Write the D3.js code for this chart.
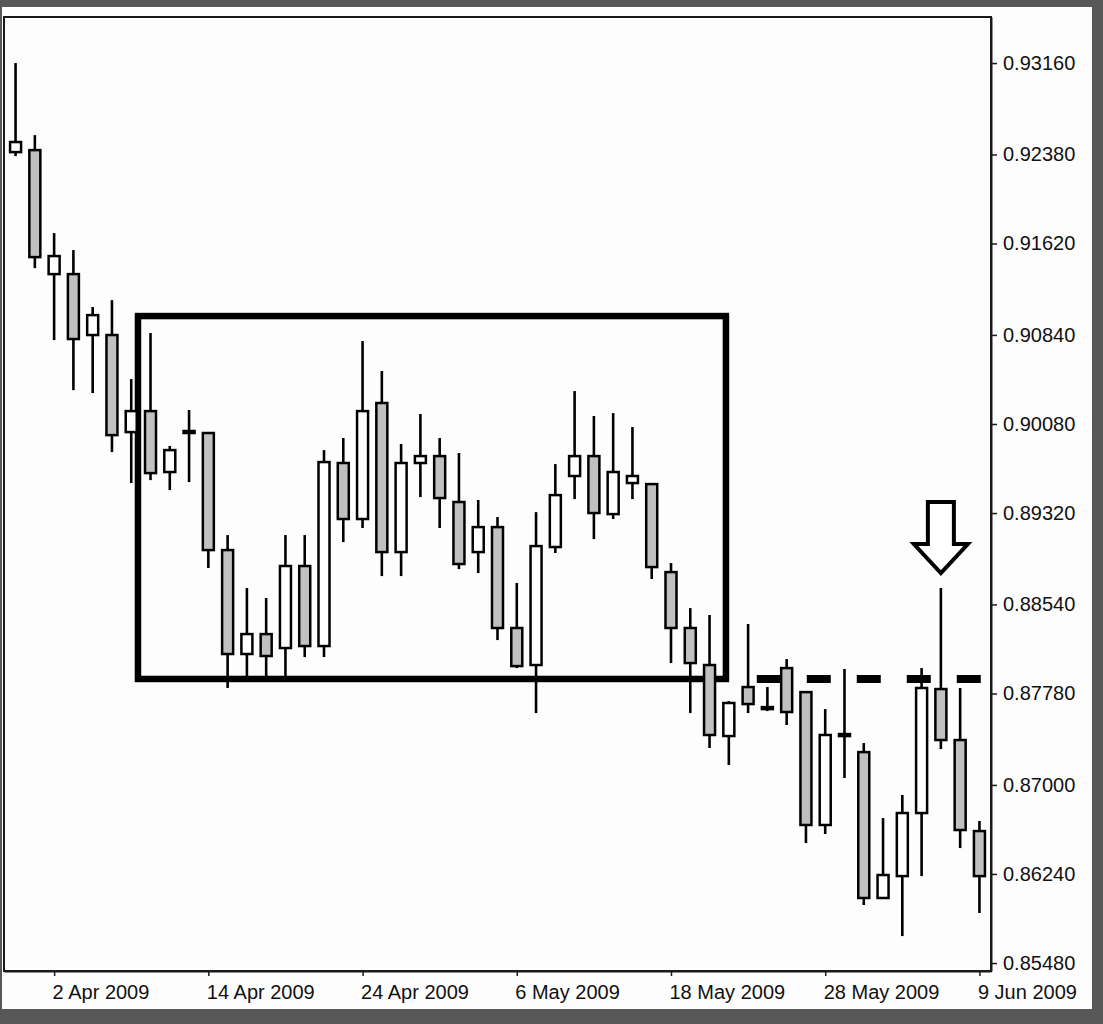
<!DOCTYPE html>
<html>
<head>
<meta charset="utf-8">
<script src="https://cdn.jsdelivr.net/npm/d3@7"></script>
<style>
  html, body { margin: 0; padding: 0; background: #575757; }
  #chart { position: absolute; left: 0; top: 0; }
</style>
</head>
<body>
<div id="chart"></div>
<script>
// trading days shown on the chart
const dates = [
  '2009-03-31', '2009-04-01', '2009-04-02', '2009-04-03',
  '2009-04-06', '2009-04-07', '2009-04-08', '2009-04-09', '2009-04-10',
  '2009-04-13', '2009-04-14', '2009-04-15', '2009-04-16', '2009-04-17',
  '2009-04-20', '2009-04-21', '2009-04-22', '2009-04-23', '2009-04-24',
  '2009-04-27', '2009-04-28', '2009-04-29', '2009-04-30', '2009-05-01',
  '2009-05-04', '2009-05-05', '2009-05-06', '2009-05-07', '2009-05-08',
  '2009-05-11', '2009-05-12', '2009-05-13', '2009-05-14', '2009-05-15',
  '2009-05-18', '2009-05-19', '2009-05-20', '2009-05-21', '2009-05-22',
  '2009-05-25', '2009-05-26', '2009-05-27', '2009-05-28', '2009-05-29',
  '2009-06-01', '2009-06-02', '2009-06-03', '2009-06-04', '2009-06-05',
  '2009-06-08', '2009-06-09'
];

const opens = [
  0.92400, 0.92417, 0.91359, 0.91359, 0.90839, 0.90839, 0.90011, 0.90190, 0.89670, 0.90003,
  0.90003, 0.89004, 0.88117, 0.88287, 0.88168, 0.88868, 0.88185, 0.89747, 0.89269, 0.90259,
  0.88987, 0.89747, 0.89806, 0.89414, 0.88987, 0.89200, 0.88339, 0.88023, 0.89030, 0.89636,
  0.89806, 0.89311, 0.89576, 0.89567, 0.88816, 0.88339, 0.88023, 0.87417, 0.87835, 0.87656,
  0.87997, 0.87792, 0.86658, 0.87417, 0.87280, 0.86035, 0.86222, 0.86760, 0.87818, 0.87383,
  0.86606
];

const highs = [
  0.93160, 0.92545, 0.91709, 0.91564, 0.91078, 0.91137, 0.90463, 0.90856, 0.89892, 0.90199,
  0.90011, 0.89132, 0.88680, 0.88595, 0.89132, 0.89132, 0.89857, 0.89960, 0.90788, 0.90532,
  0.89909, 0.90165, 0.89960, 0.89832, 0.89431, 0.89286, 0.88723, 0.89328, 0.89738, 0.90361,
  0.90148, 0.90173, 0.90054, 0.89567, 0.88893, 0.88509, 0.88450, 0.87715, 0.88373, 0.87835,
  0.88074, 0.87792, 0.87647, 0.87989, 0.87357, 0.86717, 0.86914, 0.87997, 0.88680, 0.87827,
  0.86692
];

const lows = [
  0.92366, 0.91410, 0.90796, 0.90369, 0.90344, 0.89840, 0.89576, 0.89601, 0.89516, 0.89584,
  0.88851, 0.87827, 0.87920, 0.87920, 0.87920, 0.88091, 0.88091, 0.89072, 0.89192, 0.88782,
  0.88782, 0.89456, 0.89192, 0.88842, 0.88808, 0.88236, 0.87997, 0.87613, 0.88979, 0.89439,
  0.89098, 0.89269, 0.89439, 0.88757, 0.88040, 0.87613, 0.87315, 0.87170, 0.87613, 0.87630,
  0.87511, 0.86504, 0.86581, 0.87059, 0.85975, 0.86035, 0.85710, 0.86222, 0.87306, 0.86461,
  0.85907
];

const closes = [
  0.92486, 0.91504, 0.91513, 0.90805, 0.91009, 0.89985, 0.90190, 0.89661, 0.89857, 0.90020,
  0.89004, 0.88117, 0.88287, 0.88100, 0.88868, 0.88185, 0.89755, 0.89269, 0.90190, 0.88987,
  0.89747, 0.89806, 0.89448, 0.88885, 0.89200, 0.88339, 0.88014, 0.89038, 0.89473, 0.89806,
  0.89320, 0.89670, 0.89636, 0.88859, 0.88339, 0.88040, 0.87426, 0.87699, 0.87690, 0.87664,
  0.87622, 0.86658, 0.87426, 0.87434, 0.86035, 0.86231, 0.86760, 0.87827, 0.87383, 0.86615,
  0.86222
];

const xTickDates = ['2009-04-02', '2009-04-14', '2009-04-24', '2009-05-06', '2009-05-18', '2009-05-28', '2009-06-09'];
const xTickLabels = ['2 Apr 2009', '14 Apr 2009', '24 Apr 2009', '6 May 2009', '18 May 2009', '28 May 2009', '9 Jun 2009'];
const yTickLabels = ['0.85480', '0.86240', '0.87000', '0.87780', '0.88540', '0.89320', '0.90080', '0.90840', '0.91620', '0.92380', '0.93160'];

// annotations: consolidation box (candle index span, price span), resistance level, arrow over candle
const boxIndexSpan = [6.35, 36.85];
const boxPriceSpan = [0.87904, 0.91001];
const levelIndexSpan = [38.45, 50.1];
const levelPrice = 0.87904;
const arrowIndex = 48;
const arrowPriceSpan = [0.88808, 0.89414];

class CandleChart {

  constructor(_config) {
    this.config = {
      parentElement: _config.parentElement,
      containerWidth: _config.containerWidth || 1103,
      containerHeight: _config.containerHeight || 1024,
      plot: { left: 4, top: 17, right: 991, bottom: 971 }
    }

    this.data = dates.map((d, i) => ({
      date: d, open: opens[i], high: highs[i], low: lows[i], close: closes[i]
    }));

    this.initVis();
  }

  initVis() {
    let vis = this;
    const p = vis.config.plot;

    vis.svg = d3.select(vis.config.parentElement).append('svg')
      .attr('width', vis.config.containerWidth)
      .attr('height', vis.config.containerHeight);

    // grey photo frame + white paper
    vis.svg.append('rect')
      .attr('width', vis.config.containerWidth)
      .attr('height', vis.config.containerHeight)
      .attr('fill', '#575757');
    vis.svg.append('rect')
      .attr('x', 2).attr('y', 7)
      .attr('width', 1090).attr('height', 1002)
      .attr('fill', '#fdfdfd');

    vis.xScale = d3.scalePoint()
      .domain(dates)
      .range([p.left, p.right])
      .padding(0.6);

    vis.yScale = d3.scaleLinear()
      .domain([0.85412, 0.93553])
      .range([p.bottom, p.top]);

    vis.step = vis.xScale.step();
    // fractional candle index -> pixel
    vis.xAt = idx => {
      const i = Math.floor(idx);
      return vis.xScale(dates[i]) + (idx - i) * vis.step;
    };

    // plot frame
    vis.svg.append('rect')
      .attr('x', p.left).attr('y', p.top)
      .attr('width', p.right - p.left).attr('height', p.bottom - p.top)
      .attr('fill', 'none')
      .attr('stroke', '#1a1a1a')
      .attr('stroke-width', 2);

    vis.yAxis = d3.axisRight(vis.yScale)
      .tickValues(yTickLabels.map(Number))
      .tickFormat((d, i) => yTickLabels[i])
      .tickSize(6)
      .tickSizeOuter(0)
      .tickPadding(6);

    vis.xAxis = d3.axisBottom(vis.xScale)
      .tickValues(xTickDates)
      .tickFormat((d, i) => xTickLabels[i])
      .tickSize(5)
      .tickSizeOuter(0)
      .tickPadding(9);

    vis.yAxisGroup = vis.svg.append('g')
      .attr('class', 'axis y-axis')
      .attr('transform', `translate(${p.right}, 0)`)
      .call(vis.yAxis);

    vis.xAxisGroup = vis.svg.append('g')
      .attr('class', 'axis x-axis')
      .attr('transform', `translate(0, ${p.bottom})`)
      .call(vis.xAxis);

    vis.svg.selectAll('.axis .domain').attr('stroke', '#1a1a1a').attr('stroke-width', 2);
    vis.svg.selectAll('.axis .tick line').attr('stroke', '#1a1a1a').attr('stroke-width', 1.5);
    vis.svg.selectAll('.axis text')
      .attr('fill', '#111')
      .style('font-family', '"Liberation Sans", Arial, sans-serif')
      .style('font-size', '20px');
    vis.xAxisGroup.selectAll('text')
      .attr('text-anchor', 'start')
      .attr('x', -2);

    this.updateVis();
  }

  updateVis() {
    this.renderVis();
  }

  renderVis() {
    let vis = this;
    const x = vis.xScale, y = vis.yScale;

    // consolidation box
    vis.svg.append('rect')
      .attr('x', vis.xAt(boxIndexSpan[0]))
      .attr('y', y(boxPriceSpan[1]))
      .attr('width', vis.xAt(boxIndexSpan[1]) - vis.xAt(boxIndexSpan[0]))
      .attr('height', y(boxPriceSpan[0]) - y(boxPriceSpan[1]))
      .attr('fill', 'none')
      .attr('stroke', '#000')
      .attr('stroke-width', 6.5);

    // candles
    const candles = vis.svg.append('g').attr('class', 'candles')
      .selectAll('g')
      .data(vis.data)
      .join('g');

    candles.append('line')
      .attr('x1', d => x(d.date)).attr('x2', d => x(d.date))
      .attr('y1', d => y(d.high)).attr('y2', d => y(d.low))
      .attr('stroke', '#000')
      .attr('stroke-width', 2.6);

    const bw = 11;
    candles.append('rect')
      .attr('x', d => x(d.date) - bw / 2)
      .attr('y', d => y(Math.max(d.open, d.close)))
      .attr('width', bw)
      .attr('height', d => Math.max(2, Math.abs(y(d.open) - y(d.close))))
      .attr('fill', d => d.close >= d.open ? '#ffffff' : '#c0c0c0')
      .attr('stroke', '#000')
      .attr('stroke-width', 2.5);

    // resistance level, dashed
    vis.svg.append('line')
      .attr('x1', vis.xAt(levelIndexSpan[0]))
      .attr('x2', vis.xAt(levelIndexSpan[1]))
      .attr('y1', y(levelPrice)).attr('y2', y(levelPrice))
      .attr('stroke', '#000')
      .attr('stroke-width', 8)
      .attr('stroke-dasharray', '24,26');

    // hollow down arrow above the shooting star
    const ax = x(dates[arrowIndex]);
    const tip = y(arrowPriceSpan[0]);
    const top = y(arrowPriceSpan[1]);
    const headH = 29, shaftW = 13, headW = 27;
    const arrow = d3.path();
    arrow.moveTo(ax - shaftW, top);
    arrow.lineTo(ax + shaftW, top);
    arrow.lineTo(ax + shaftW, tip - headH);
    arrow.lineTo(ax + headW, tip - headH);
    arrow.lineTo(ax, tip);
    arrow.lineTo(ax - headW, tip - headH);
    arrow.lineTo(ax - shaftW, tip - headH);
    arrow.closePath();
    vis.svg.append('path')
      .attr('d', arrow.toString())
      .attr('fill', '#fff')
      .attr('stroke', '#000')
      .attr('stroke-width', 4)
      .attr('stroke-linejoin', 'miter');
  }
}

const chart = new CandleChart({ parentElement: '#chart' });
</script>
</body>
</html>
